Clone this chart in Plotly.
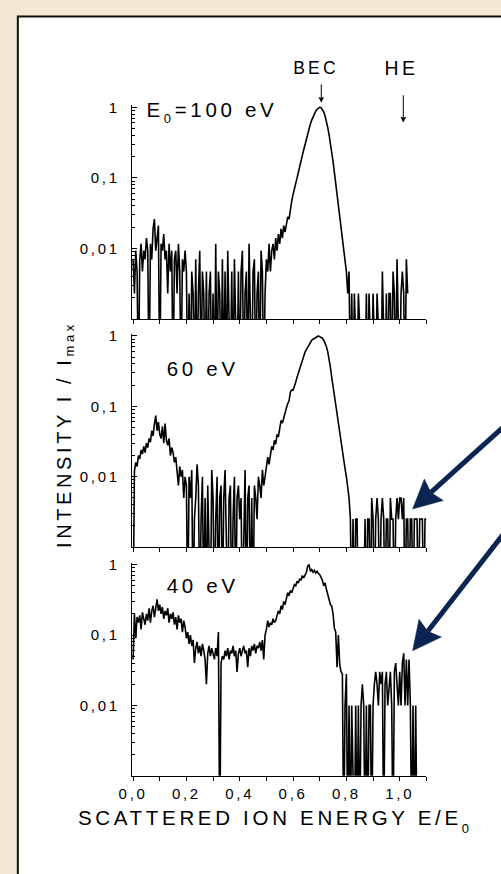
import math
import plotly.graph_objects as go

# ---------------- data ----------------
ENERGY = [
    0.000, 0.005, 0.010, 0.015, 0.020, 0.025, 0.030, 0.035, 0.040, 0.045,
    0.050, 0.055, 0.060, 0.065, 0.070, 0.075, 0.080, 0.085, 0.090, 0.095,
    0.100, 0.105, 0.110, 0.115, 0.120, 0.125, 0.130, 0.135, 0.140, 0.145,
    0.150, 0.155, 0.160, 0.165, 0.170, 0.175, 0.180, 0.185, 0.190, 0.195,
    0.200, 0.205, 0.210, 0.215, 0.220, 0.225, 0.230, 0.235, 0.240, 0.245,
    0.250, 0.255, 0.260, 0.265, 0.270, 0.275, 0.280, 0.285, 0.290, 0.295,
    0.300, 0.305, 0.310, 0.315, 0.320, 0.325, 0.330, 0.335, 0.340, 0.345,
    0.350, 0.355, 0.360, 0.365, 0.370, 0.375, 0.380, 0.385, 0.390, 0.395,
    0.400, 0.405, 0.410, 0.415, 0.420, 0.425, 0.430, 0.435, 0.440, 0.445,
    0.450, 0.455, 0.460, 0.465, 0.470, 0.475, 0.480, 0.485, 0.490, 0.495,
    0.500, 0.505, 0.510, 0.515, 0.520, 0.525, 0.530, 0.535, 0.540, 0.545,
    0.550, 0.555, 0.560, 0.565, 0.570, 0.575, 0.580, 0.585, 0.590, 0.595,
    0.600, 0.605, 0.610, 0.615, 0.620, 0.625, 0.630, 0.635, 0.640, 0.645,
    0.650, 0.655, 0.660, 0.665, 0.670, 0.675, 0.680, 0.685, 0.690, 0.695,
    0.700, 0.705, 0.710, 0.715, 0.720, 0.725, 0.730, 0.735, 0.740, 0.745,
    0.750, 0.755, 0.760, 0.765, 0.770, 0.775, 0.780, 0.785, 0.790, 0.795,
    0.800, 0.805, 0.810, 0.815, 0.820, 0.825, 0.830, 0.835, 0.840, 0.845,
    0.850, 0.855, 0.860, 0.865, 0.870, 0.875, 0.880, 0.885, 0.890, 0.895,
    0.900, 0.905, 0.910, 0.915, 0.920, 0.925, 0.930, 0.935, 0.940, 0.945,
    0.950, 0.955, 0.960, 0.965, 0.970, 0.975, 0.980, 0.985, 0.990, 0.995,
    1.000, 1.005, 1.010, 1.015, 1.020, 1.025, 1.030, 1.035, 1.040, 1.045,
    1.050, 1.055, 1.060, 1.065, 1.070, 1.075, 1.080, 1.085, 1.090, 1.095,
    1.100,
]

# E0 = 100 eV  (I / Imax, 0 = no counts)
I_100 = [
    0.007, 0.0023, 0.0093, 0.0047, 0, 0.007, 0.0116, 0.0047, 0.0093, 0.007,
    0.014, 0.0093, 0, 0.0116, 0.007, 0.019, 0.026, 0.0093, 0.014, 0.021,
    0, 0.0116, 0.0093, 0.016, 0.007, 0.0093, 0.0023, 0.0116, 0.0047, 0.0093,
    0, 0.007, 0.0093, 0.0023, 0.0116, 0.0047, 0, 0.007, 0.0047, 0.0093,
    0.0047, 0, 0.0023, 0, 0.0047, 0.0023, 0, 0.007, 0, 0.0023,
    0.0093, 0, 0.0047, 0.0023, 0, 0.0047, 0, 0.0023, 0.0047, 0,
    0.0023, 0, 0.0116, 0, 0.0047, 0.0023, 0, 0.007, 0, 0.0047,
    0, 0.0093, 0.0023, 0, 0.0047, 0, 0.007, 0.0023, 0, 0.0047,
    0, 0.0047, 0.0093, 0, 0.0023, 0.0047, 0, 0.0116, 0.0023, 0,
    0.0047, 0.007, 0, 0.0023, 0.0047, 0, 0.0093, 0.0047, 0, 0.0023,
    0.007, 0.0047, 0.0116, 0.0047, 0.0093, 0.0116, 0.007, 0.014, 0.0093, 0.016,
    0.0116, 0.019, 0.014, 0.021, 0.017, 0.023, 0.028, 0.026, 0.037, 0.047,
    0.058, 0.068, 0.085, 0.1, 0.12, 0.15, 0.18, 0.21, 0.25, 0.3,
    0.36, 0.43, 0.5, 0.58, 0.66, 0.74, 0.81, 0.88, 0.94, 0.98,
    1.0, 0.99, 0.94, 0.86, 0.76, 0.64, 0.52, 0.41, 0.32, 0.24,
    0.17, 0.12, 0.085, 0.058, 0.04, 0.028, 0.019, 0.013, 0.0093, 0.007,
    0.0047, 0.0023, 0.0047, 0, 0.0023, 0, 0.0023, 0, 0, 0.0023,
    0, 0, 0, 0, 0, 0.0023, 0, 0.0023, 0, 0,
    0.0023, 0, 0, 0.0023, 0, 0, 0, 0.0047, 0, 0,
    0.0023, 0, 0.0023, 0.0023, 0, 0.0047, 0.0023, 0, 0.007, 0.0023,
    0, 0.0023, 0.0047, 0.0023, 0, 0.007, 0.0023,
]

# E0 = 60 eV
I_60 = [
    0, 0.012, 0.016, 0.014, 0.02, 0.018, 0.024, 0.021, 0.027, 0.022,
    0.03, 0.026, 0.035, 0.031, 0.045, 0.038, 0.056, 0.074, 0.045, 0.06,
    0.04, 0.035, 0.052, 0.03, 0.057, 0.033, 0.028, 0.035, 0.02, 0.026,
    0.022, 0.016, 0.019, 0.012, 0.0075, 0.014, 0.01, 0.0125, 0.005, 0.01,
    0.0075, 0, 0.01, 0.005, 0.0125, 0, 0.0025, 0.005, 0.015, 0.0075,
    0, 0.0025, 0.01, 0, 0.005, 0, 0.0075, 0.0025, 0, 0.0125,
    0.005, 0, 0.0025, 0.01, 0, 0.005, 0.0075, 0, 0.005, 0.0125,
    0.0025, 0, 0.005, 0.0075, 0, 0.0025, 0.01, 0, 0.005, 0.0075,
    0.0025, 0.005, 0, 0.0025, 0.0125, 0, 0.005, 0.0075, 0, 0.005,
    0, 0.0075, 0.005, 0.0025, 0.01, 0.0075, 0.005, 0.0125, 0.0075, 0.01,
    0.013, 0.019, 0.015, 0.022, 0.027, 0.024, 0.033, 0.029, 0.04, 0.037,
    0.05, 0.063, 0.058, 0.07, 0.08, 0.095, 0.11, 0.12, 0.16, 0.17,
    0.17, 0.19, 0.22, 0.26, 0.3, 0.34, 0.4, 0.46, 0.52, 0.59,
    0.64, 0.7, 0.76, 0.82, 0.87, 0.9, 0.93, 0.96, 0.98, 1.0,
    0.98, 0.96, 0.93, 0.87, 0.8, 0.71, 0.6, 0.48, 0.36, 0.26,
    0.19, 0.14, 0.1, 0.075, 0.055, 0.04, 0.03, 0.022, 0.017, 0.013,
    0.01, 0.0075, 0.005, 0.0025, 0, 0.0025, 0, 0.0025, 0.0025, 0,
    0, 0, 0, 0, 0.0025, 0, 0.0025, 0.0025, 0, 0.005,
    0.0025, 0, 0.0025, 0.005, 0.0025, 0, 0.0025, 0.005, 0.0025, 0,
    0.0025, 0.0025, 0, 0.005, 0.0025, 0.0025, 0, 0.0025, 0.005, 0.0025,
    0.005, 0.005, 0.0025, 0.005, 0, 0.0025, 0.0025, 0, 0.0025, 0.0025,
    0, 0.0025, 0.0025, 0.0025, 0, 0.0025, 0.0025, 0.0025, 0, 0.0025,
    0.0025,
]

# E0 = 40 eV
I_40 = [
    0.045, 0.2, 0.09, 0.18, 0.15, 0.19, 0.12, 0.21, 0.17, 0.14,
    0.2, 0.16, 0.24, 0.15, 0.22, 0.26, 0.18, 0.23, 0.32, 0.22,
    0.27, 0.2, 0.25, 0.17, 0.22, 0.19, 0.24, 0.15, 0.2, 0.17,
    0.21, 0.14, 0.18, 0.12, 0.19, 0.15, 0.17, 0.11, 0.16, 0.13,
    0.09, 0.11, 0.075, 0.1, 0.07, 0.085, 0.04, 0.065, 0.08, 0.055,
    0.07, 0.05, 0.075, 0.06, 0.045, 0.02, 0.055, 0.07, 0.05, 0.065,
    0.055, 0.045, 0.065, 0.05, 0.11, 0, 0.04, 0.05, 0.045, 0.06,
    0.05, 0.065, 0.045, 0.06, 0.055, 0.07, 0.05, 0.06, 0.03, 0.055,
    0.065, 0.05, 0.06, 0.07, 0.055, 0.06, 0.035, 0.065, 0.05, 0.07,
    0.06, 0.075, 0.055, 0.07, 0.065, 0.08, 0.06, 0.085, 0.045, 0.1,
    0.12, 0.16, 0.13, 0.15, 0.14, 0.17, 0.15, 0.16, 0.19, 0.22,
    0.2, 0.26, 0.23, 0.3, 0.27, 0.33, 0.4, 0.36, 0.43, 0.4,
    0.48, 0.52, 0.5, 0.58, 0.55, 0.63, 0.6, 0.7, 0.65, 0.72,
    0.78, 0.95, 1.0, 0.8, 0.85, 0.78, 0.83, 0.76, 0.8, 0.75,
    0.72, 0.66, 0.6, 0.5, 0.55, 0.45, 0.38, 0.3, 0.27, 0.26,
    0.2, 0.125, 0.11, 0.035, 0.1, 0.038, 0.03, 0.028, 0, 0.01,
    0.028, 0, 0.01, 0, 0.01, 0, 0, 0.01, 0, 0.01,
    0, 0.01, 0.02, 0.01, 0, 0.01, 0, 0.01, 0.01, 0,
    0.01, 0.02, 0.03, 0.02, 0.01, 0.03, 0.02, 0.03, 0, 0.02,
    0.03, 0.01, 0.02, 0.03, 0.01, 0, 0.03, 0.04, 0.02, 0.01,
    0.03, 0.01, 0.04, 0.055, 0.01, 0.045, 0.01, 0.045, 0.01, 0,
    0.01, 0, 0.01, 0,
]

SPECTRA = [("100 eV", I_100), ("60 eV", I_60), ("40 eV", I_40)]
X_TICKS = [0.0, 0.2, 0.4, 0.6, 0.8, 1.0]
X_TICK_TEXT = ["0,0", "0,2", "0,4", "0,6", "0,8", "1,0"]
X_MINOR = [0.1, 0.3, 0.5, 0.7, 0.9, 1.1]
Y_TICKS = [0.01, 0.1, 1]
Y_TICK_TEXT = ["0,01", "0,1", "1"]
Y_MINOR = [k * 10.0 ** p for p in (-3, -2, -1) for k in range(2, 10)]

# ---------------- layout helpers ----------------
W, H = 501, 874
FONT = "Arial, 'Liberation Sans', Helvetica, sans-serif"
FLOOR = 1e-4  # zero counts are drawn down off the log axis
NAVY = "#0B2451"


def px_x(p):
    return p / W


def px_y(p):
    return 1 - p / H


def sub(txt, size, shift):
    return f"<span style='font-size:{size}px;baseline-shift:-{shift}px'>{txt}</span>"


# panel vertical extents in pixels (top, bottom)
PANELS = [(99.0, 314.5), (329.5, 544.5), (560.0, 775.0)]
X_DOMAIN = [px_x(125), px_x(425)]

fig = go.Figure()
for i, (name, vals) in enumerate(SPECTRA):
    sfx = "" if i == 0 else str(i + 1)
    fig.add_trace(go.Scatter(
        x=ENERGY[:len(vals)],
        y=[v if v > 0 else FLOOR for v in vals],
        mode="lines",
        line=dict(color="black", width=1.6),
        name=name,
        xaxis="x" + sfx, yaxis="y" + sfx,
        hoverinfo="skip",
    ))

layout = dict(
    width=W, height=H, autosize=False,
    margin=dict(l=0, r=0, t=0, b=0, pad=0),
    paper_bgcolor="#F2E8D4",
    plot_bgcolor="rgba(0,0,0,0)",
    showlegend=False,
    font=dict(family=FONT, color="black", size=15),
)

for i, (top, bot) in enumerate(PANELS):
    sfx = "" if i == 0 else str(i + 1)
    last = i == len(PANELS) - 1
    layout["xaxis" + sfx] = dict(
        domain=X_DOMAIN, range=[-0.005, 1.1], anchor="y" + sfx,
        showline=True, linecolor="black", linewidth=1,
        showgrid=False, zeroline=False,
        ticks="outside", ticklen=4, tickwidth=1, tickcolor="black",
        tickmode="array", tickvals=X_TICKS, ticktext=X_TICK_TEXT,
        showticklabels=last,
        tickfont=dict(family=FONT, size=15, color="black"),
        minor=dict(ticks="outside", ticklen=4, tickwidth=1, tickcolor="black",
                   tickmode="array", tickvals=X_MINOR, showgrid=False),
    )
    layout["yaxis" + sfx] = dict(
        domain=[px_y(bot), px_y(top)], type="log", range=[-3, 0.03],
        anchor="x" + sfx,
        showline=True, linecolor="black", linewidth=1,
        showgrid=False, zeroline=False,
        ticks="inside", ticklen=5, tickwidth=1, tickcolor="black",
        tickmode="array", tickvals=Y_TICKS, ticktext=Y_TICK_TEXT,
        ticklabelstandoff=8,
        tickfont=dict(family=FONT, size=15, color="black"),
        minor=dict(ticks="inside", ticklen=3, tickwidth=1, tickcolor="black",
                   tickmode="array", tickvals=Y_MINOR, showgrid=False),
    )


def arrow_shapes(tail, tip, color, width, head_len, head_half, notch):
    """Arrow drawn as a shaft line plus a filled head path (pixel positions)."""
    dx, dy = tail[0] - tip[0], tail[1] - tip[1]
    n = math.hypot(dx, dy)
    ux, uy = dx / n, dy / n
    bx, by = tip[0] + ux * head_len, tip[1] + uy * head_len
    px_, py_ = -uy, ux
    c1 = (bx + px_ * head_half, by + py_ * head_half)
    c2 = (bx - px_ * head_half, by - py_ * head_half)
    nm = (bx - ux * notch, by - uy * notch)
    pts = [tip, c1, nm, c2]
    path = "M " + " L ".join(f"{px_x(p[0]):.5f},{px_y(p[1]):.5f}" for p in pts) + " Z"
    return [
        dict(type="line", xref="paper", yref="paper",
             x0=px_x(tail[0]), y0=px_y(tail[1]), x1=px_x(nm[0]), y1=px_y(nm[1]),
             line=dict(color=color, width=width)),
        dict(type="path", xref="paper", yref="paper", path=path,
             fillcolor=color, line=dict(color=color, width=0.5)),
    ]


shapes = [dict(
    type="rect", xref="paper", yref="paper", layer="below",
    x0=px_x(9), x1=px_x(W + 20), y0=px_y(H + 20), y1=px_y(9.5),
    fillcolor="white", line=dict(color="#111111", width=2),
)]
shapes += arrow_shapes((318, 78), (318, 96), "black", 1, 5, 2.5, 1)
shapes += arrow_shapes((401.5, 89), (401.5, 116), "black", 1, 5, 2.5, 1)
shapes += arrow_shapes((506, 421), (411, 506), NAVY, 5, 29, 14.5, 4)
shapes += arrow_shapes((506, 528), (411, 649), NAVY, 5, 29, 14.5, 4)
layout["shapes"] = shapes


def label(text, x, y, size, xanchor="center", yanchor="middle", angle=0):
    return dict(text=text, xref="paper", yref="paper", x=px_x(x), y=px_y(y),
                xanchor=xanchor, yanchor=yanchor, showarrow=False,
                textangle=angle, font=dict(family=FONT, size=size, color="black"))


layout["annotations"] = [
    label("BEC", 313, 61, 17.5),
    label("HE", 400, 61, 19.5),
    label("E" + sub("0", 13, 6) + "=100 eV", 207, 106, 20.5),
    label("60 eV", 198, 364, 20.5),
    label("40 eV", 198, 583, 20.5),
    label("INTENSITY I / I" + sub("max", 13, 3), 57, 431, 20, angle=-90),
    label("SCATTERED ION ENERGY E/E" + sub("0", 13, 8), 271, 821, 20.5),
]

fig.update_layout(**layout)

post = (
    "var s=document.createElement('style');"
    "s.textContent='.main-svg text{letter-spacing:0.18em;}';"
    "document.head.appendChild(s);"
)
fig.write_html("out.html", post_script=post)
